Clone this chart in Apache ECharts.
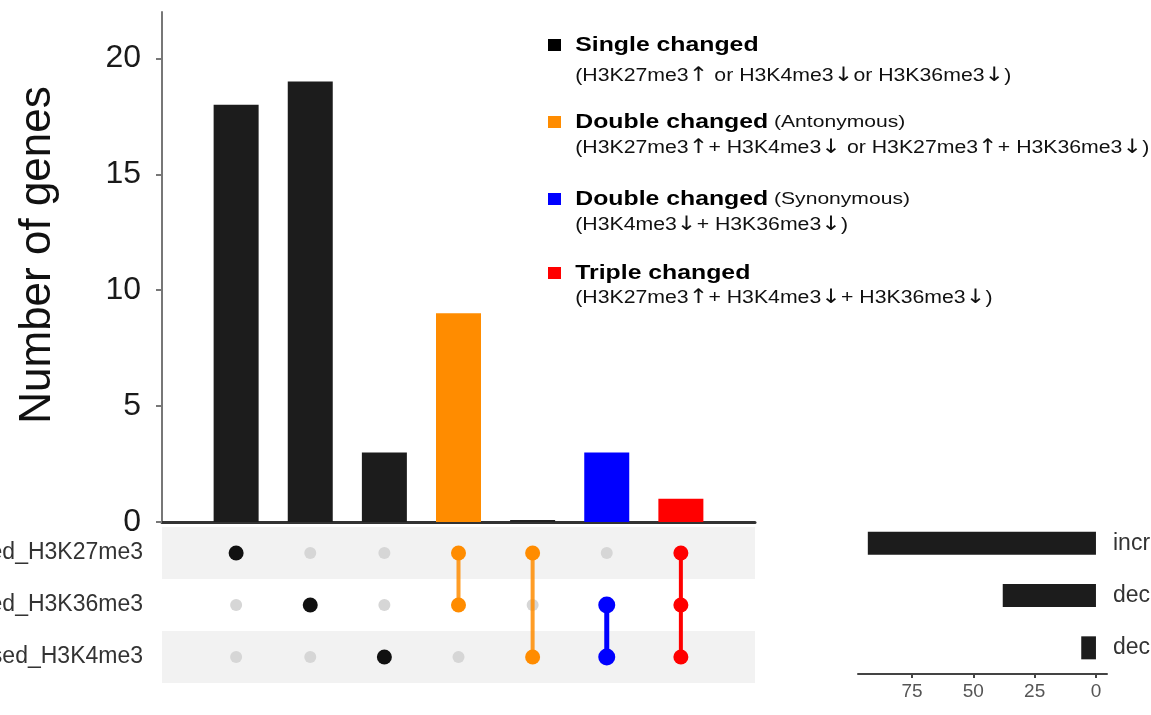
<!DOCTYPE html>
<html>
<head>
<meta charset="utf-8">
<script src="https://cdn.jsdelivr.net/npm/echarts@6/dist/echarts.min.js"></script>
<style>
html,body{margin:0;padding:0;background:#fff;}
#c{width:1151px;height:715px;}
</style>
</head>
<body>
<div id="c"></div>
<script>
// ---- data ----
const combos = ['H3K27me3', 'H3K36me3', 'H3K4me3', 'H3K27me3+H3K36me3', 'H3K27me3+H3K4me3', 'H3K36me3+H3K4me3', 'H3K27me3+H3K36me3+H3K4me3'];
const counts = [18, 19, 3, 9, 0, 3, 1];
const barColors = ['#1c1c1c', '#1c1c1c', '#1c1c1c', '#ff8c00', '#222222', '#0000ff', '#ff0000'];
const dotColors = ['#111111', '#111111', '#111111', '#ff8c00', '#ff8c00', '#0000ff', '#ff0000'];
const setNames = ['increased_H3K27me3', 'decreased_H3K36me3', 'decreased_H3K4me3'];
const membership = [
  [1, 0, 0, 1, 1, 0, 1],
  [0, 1, 0, 1, 0, 1, 1],
  [0, 0, 1, 0, 1, 1, 1]
];
const setSizes = [93, 38, 6];
const yTicks = [0, 5, 10, 15, 20];
const setTicks = [0, 25, 50, 75];
const legendTitles = ['Single changed', 'Double changed', 'Double changed', 'Triple changed'];
const legendNotes = ['', '(Antonymous)', '(Synonymous)', ''];
const legendSubs = [
  '(H3K27me3\u2191 or H3K4me3\u2193or H3K36me3\u2193)',
  '(H3K27me3\u2191+ H3K4me3\u2193 or H3K27me3\u2191+ H3K36me3\u2193)',
  '(H3K4me3\u2193+ H3K36me3\u2193)',
  '(H3K27me3\u2191+ H3K4me3\u2193+ H3K36me3\u2193)'
];
const legendColors = ['#000000', '#ff8c00', '#0000ff', '#ff0000'];

// ---- build ----
const FONT = '"Liberation Sans", Arial, sans-serif';
const chart = echarts.init(document.getElementById('c'), null, {renderer: 'canvas'});

const barData = counts.map((v, i) => ({value: [i, v], itemStyle: {color: barColors[i]}}));
const inactive = [], active = [];
membership.forEach((row, r) => row.forEach((m, c) => {
  if (m) active.push({value: [c, r], itemStyle: {color: dotColors[c], opacity: 1}, symbolSize: dotColors[c] === '#0000ff' ? 17 : 15});
  else inactive.push([c, r]);
}));
const lineSeries = [];
combos.forEach((name, c) => {
  const rows = membership.map((row, r) => row[c] ? r : -1).filter(r => r >= 0);
  if (rows.length > 1) {
    lineSeries.push({
      type: 'line', xAxisIndex: 1, yAxisIndex: 1, symbol: 'none', silent: true,
      data: [[c, Math.min(...rows)], [c, Math.max(...rows)]],
      lineStyle: {color: dotColors[c], width: c === 5 ? 5 : 4, opacity: c === 3 || c === 4 ? 0.85 : 1},
      z: 3
    });
  }
});

function richSub(s) {
  return s.split(/([\u2191\u2193])/).filter(p => p.length).map(p =>
    (p === '\u2191' || p === '\u2193') ? '{a|' + p + '}' : '{s|' + p + '}').join('');
}

const legendTop = [45, 122, 199, 273];
const subTop = [76, 148, 225, 298];
const legendChildren = [];
legendTitles.forEach((t, i) => {
  legendChildren.push({type: 'rect', shape: {x: 0, y: legendTop[i] - 6, width: 10.5, height: 12}, style: {fill: legendColors[i]}});
  legendChildren.push({type: 'text', x: 22, y: legendTop[i], style: {
    text: '{b|' + t + '}' + (legendNotes[i] ? '{n| ' + legendNotes[i] + '}' : ''),
    verticalAlign: 'middle', align: 'left',
    rich: {b: {fontFamily: FONT, fontSize: 20, fontWeight: 'bold', fill: '#000'}, n: {fontFamily: FONT, fontSize: 17, fill: '#111'}}
  }});
  legendChildren.push({type: 'text', x: 22, y: subTop[i], scaleX: 0.952, style: {
    text: richSub(legendSubs[i]), verticalAlign: 'middle', align: 'left',
    rich: {s: {fontFamily: FONT, fontSize: 18, fill: '#111'}, a: {fontFamily: '"DejaVu Sans"', fontSize: 20, fill: '#111'}}
  }});
});

const option = {
  animation: false,
  backgroundColor: '#ffffff',
  grid: [
    {left: 162, top: 12, width: 593, height: 510, outerBoundsMode: 'none', containLabel: false},
    {left: 162, top: 527, width: 593, height: 156, outerBoundsMode: 'none', containLabel: false},
    {left: 858, top: 517, width: 249, height: 157, outerBoundsMode: 'none', containLabel: false}
  ],
  xAxis: [
    {gridIndex: 0, type: 'value', min: -1, max: 7, axisLine: {show: true, onZero: false, lineStyle: {color: '#333', width: 3}}, axisTick: {show: false}, axisLabel: {show: false}, splitLine: {show: false}},
    {gridIndex: 1, type: 'value', min: -1, max: 7, show: false},
    {gridIndex: 2, type: 'value', min: -4.5, max: 97, inverse: true,
      axisLine: {show: true, onZero: false, lineStyle: {color: '#444', width: 2}},
      axisTick: {show: true, customValues: setTicks, length: 4, lineStyle: {color: '#444', width: 2}},
      axisLabel: {customValues: setTicks, fontFamily: FONT, fontSize: 19, color: '#555', margin: 8},
      splitLine: {show: false}}
  ],
  yAxis: [
    {gridIndex: 0, type: 'value', min: 0, max: 22,
      axisLine: {show: true, onZero: false, lineStyle: {color: '#777', width: 2}},
      axisTick: {show: true, customValues: yTicks, length: 6, lineStyle: {color: '#777', width: 2}},
      axisLabel: {customValues: yTicks, fontFamily: FONT, fontSize: 32, color: '#1a1a1a', margin: 21},
      splitLine: {show: false}},
    {gridIndex: 1, type: 'category', data: setNames, inverse: true,
      axisLine: {show: false, onZero: false}, axisTick: {show: false},
      axisLabel: {fontFamily: FONT, fontSize: 23, color: '#333', margin: 19},
      splitArea: {show: true, areaStyle: {color: ['#f2f2f2', '#ffffff']}}},
    {gridIndex: 2, type: 'category', data: setNames, inverse: true, position: 'right',
      axisLine: {show: false, onZero: false}, axisTick: {show: false},
      axisLabel: {fontFamily: FONT, fontSize: 23, color: '#333', margin: 6}}
  ],
  series: [
    {type: 'bar', xAxisIndex: 0, yAxisIndex: 0, data: barData, barWidth: 45, barMinHeight: 2},
    {type: 'scatter', xAxisIndex: 1, yAxisIndex: 1, data: inactive, symbolSize: 12, itemStyle: {color: '#d6d6d6', opacity: 1}, z: 2},
    ...lineSeries,
    {type: 'scatter', xAxisIndex: 1, yAxisIndex: 1, data: active, itemStyle: {opacity: 1}, z: 4},
    {type: 'bar', xAxisIndex: 2, yAxisIndex: 2, data: setSizes, barWidth: 23, itemStyle: {color: '#1c1c1c'}}
  ],
  graphic: [
    {type: 'text', x: 38, y: 255, rotation: Math.PI / 2, style: {text: 'Number of genes', fontFamily: FONT, fontSize: 44, fill: '#111', align: 'center', verticalAlign: 'middle'}},
    {type: 'group', x: 548, y: 0, scaleX: 1.24, children: legendChildren}
  ]
};
chart.setOption(option);
</script>
</body>
</html>
